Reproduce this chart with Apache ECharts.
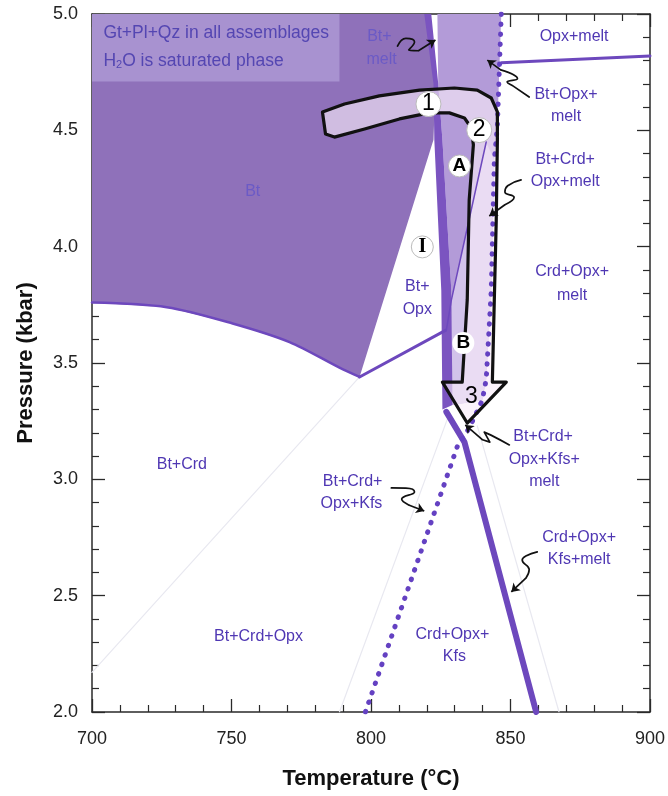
<!DOCTYPE html>
<html><head><meta charset="utf-8">
<script src="https://cdn.jsdelivr.net/npm/echarts@6/dist/echarts.min.js"></script>
<style>html,body{margin:0;padding:0;background:#fff}#c{width:668px;height:796px}</style>
</head><body><div id="c"></div>
<script>
// ---------- data (T in °C, P in kbar) ----------
const xRange = [700, 900];
const yRange = [2.0, 5.0];
const btField = [[700,5.0],[820.2,5.0],[823.1,4.70],[822.4,4.46],[795.9,3.44],[788.7,3.48],[770.8,3.59],[750.4,3.67],[726.8,3.74],[700,3.76]];
const btLowerCurve = [[700,3.76],[726.8,3.74],[750.4,3.67],[770.8,3.59],[788.7,3.48],[795.9,3.44]];
const noteBox = [[700,5.0],[788.7,5.0],[788.7,4.71],[700,4.71]];
const meltStrip = [[819.1,5.0],[822.4,4.70],[822.7,4.46],[825.2,3.81],[825.6,3.30],[829.2,3.32],[828.8,3.81],[825.6,4.46],[824.1,4.70],[821.6,5.0]];
const btOpxMelt = [[823.8,5.0],[846.7,5.0],[845.3,4.52],[844.2,4.37],[843.1,3.81],[841.3,3.43],[839.9,3.34],[829.2,3.32],[828.8,3.81],[825.6,4.46],[824.1,4.70]];
const btCrdOpxMelt = [[841.3,4.45],[844.2,4.37],[843.1,3.81],[841.3,3.43],[839.9,3.34],[829.2,3.32],[828.8,3.77]];
const thinLine = [[841.3,4.45],[828.8,3.77],[827.0,3.64]];
const opxMeltLine = [[846.7,4.79],[900,4.82]];
const btOpxLine = [[795.9,3.44],[826.7,3.64]];
const kfsMeltLine = [[827.0,3.29],[833.5,3.16],[859.2,2.0]];
const dottedLine = [[846.7,5.0],[845.3,4.52],[844.2,4.37],[843.1,3.81],[841.3,3.43],[839.9,3.34],[835.2,3.22],[830.9,3.14],[798.0,2.0]];
const faint1 = [[700,2.17],[795.9,3.44]];
const faint2 = [[788.7,2.0],[827.4,3.26]];
const faint3 = [[838.1,3.23],[867.4,2.0]];
const ptPath = [[782.6,4.579],[790.5,4.613],[803.0,4.648],[817.4,4.673],[829.9,4.682],[838.1,4.673],[843.1,4.639],[845.3,4.579],[845.3,4.458],[844.9,4.115],[844.2,3.771],[843.5,3.418],[848.5,3.418],[834.5,3.242],[825.6,3.418],[832.7,3.418],[834.5,3.771],[835.2,4.201],[836.7,4.437],[836.0,4.510],[833.5,4.553],[828.1,4.575],[820.9,4.575],[810.2,4.549],[797.7,4.506],[786.9,4.471],[783.7,4.484]];
const markers = [[820.6,4.613,'1'],[838.8,4.501,'2'],[831.7,4.347,'A'],[818.4,3.999,'I'],[833.1,3.586,'B']];
const arrowNumber = [[836.0,3.354,'3']];
const fieldLabels = [
  [803.0,4.901,'Bt+'],[803.8,4.802,'melt'],[757.6,4.235,'Bt'],
  [872.8,4.901,'Opx+melt'],[869.9,4.652,'Bt+Opx+'],[869.9,4.557,'melt'],
  [869.6,4.373,'Bt+Crd+'],[869.6,4.278,'Opx+melt'],
  [872.1,3.891,'Crd+Opx+'],[872.1,3.788,'melt'],
  [816.6,3.827,'Bt+'],[816.6,3.728,'Opx'],
  [732.2,3.062,'Bt+Crd'],
  [793.4,2.989,'Bt+Crd+'],[793.0,2.894,'Opx+Kfs'],
  [861.7,3.182,'Bt+Crd+'],[862.1,3.083,'Opx+Kfs+'],[862.1,2.989,'melt'],
  [874.6,2.748,'Crd+Opx+'],[874.6,2.653,'Kfs+melt'],
  [829.2,2.331,'Crd+Opx+'],[829.9,2.236,'Kfs'],
  [759.7,2.322,'Bt+Crd+Opx']
];
const noteLines = [[703.9,4.918,'Gt+Pl+Qz in all assemblages'],[703.9,4.798,'H{s|2}O is saturated phase']];
const callouts = [
  [[809.5,4.862],[812.5,4.895],[815.6,4.880],[813.5,4.845],[817.0,4.842],[823.1,4.888]],
  [[856.7,4.643],[851.0,4.690],[848.8,4.708],[852.5,4.722],[846.5,4.760],[841.7,4.802]],
  [[853.8,4.287],[849.0,4.262],[848.0,4.235],[851.3,4.212],[848.0,4.180],[842.4,4.132]],
  [[849.6,3.148],[843.0,3.190],[840.6,3.203],[842.6,3.160],[840.0,3.170],[833.8,3.234]],
  [[807.3,2.963],[812.5,2.962],[815.6,2.946],[811.0,2.915],[813.5,2.890],[819.1,2.864]],
  [[859.6,2.688],[855.5,2.670],[854.2,2.653],[856.7,2.612],[855.5,2.575],[850.3,2.516]]
];

// ---------- helpers ----------
const FONT = 'Liberation Sans, Arial, sans-serif';
const TXT = '#4f37b3';
function poly(pts, fill, z, stroke, width) {
  return {type:'custom', coordinateSystem:'cartesian2d', z, silent:true, clip:true,
    data:[pts[0]],
    renderItem:(params, api)=>({type:'polygon',
      shape:{points: pts.map(p=>api.coord(p))},
      style:{fill, stroke: stroke||null, lineWidth: width||0, lineJoin:'round'}})};
}
function line(pts, color, width, z, type, smooth) {
  return {type:'line', data:pts, symbol:'none', z, silent:true, smooth: smooth||false,
    lineStyle:{color, width, type: type||'solid', cap:'round', join:'round'}};
}
function labelSeries(items, color, size, z, align) {
  return {type:'scatter', z, silent:true, symbol:'circle', symbolSize:1,
    itemStyle:{color:'rgba(0,0,0,0)', opacity:1},
    data: items.map(l=>({value:[l[0],l[1]], label:{show:true, formatter:l[2]}})),
    label:{show:true, position: align==='left' ? 'right' : 'inside', distance:0, color, fontSize:size, fontFamily:FONT,
      rich:{s:{fontSize:11, color, fontFamily:FONT, padding:[7,0,0,0]}}}};
}

const axisCommon = {
  type:'value', axisLine:{show:true, lineStyle:{color:'#2a2a2a', width:1.5}},
  axisTick:{show:true, inside:true, length:13, lineStyle:{color:'#2a2a2a', width:1.3}},
  minorTick:{show:true, splitNumber:5, length:7, lineStyle:{color:'#2a2a2a', width:1.2}},
  splitLine:{show:false}
};

const calloutSeries = [];
callouts.forEach(c=>{
  calloutSeries.push(line(c.slice(0, c.length-1), '#111', 1.7, 8, 'solid', 0.5));
});
calloutSeries.push({type:'lines', coordinateSystem:'cartesian2d', z:8, silent:true,
  symbol:['none','arrow'], symbolSize:8,
  lineStyle:{color:'#111', width:1.7, opacity:1},
  data: callouts.map(c=>({coords:[c[c.length-2], c[c.length-1]]}))});

const option = {
  animation:false,
  backgroundColor:'#ffffff',
  grid:{left:92, right:17, top:14, bottom:84},
  xAxis:[
    Object.assign({}, axisCommon, {min:xRange[0], max:xRange[1], interval:50, position:'bottom',
      name:'Temperature (°C)', nameLocation:'middle', nameGap:56,
      nameTextStyle:{fontSize:22, fontWeight:'bold', color:'#111', fontFamily:FONT},
      axisLabel:{fontSize:18, color:'#222', margin:18, fontFamily:FONT}}),
    Object.assign({}, axisCommon, {min:xRange[0], max:xRange[1], interval:50, position:'top', axisLabel:{show:false}})
  ],
  yAxis:[
    Object.assign({}, axisCommon, {min:yRange[0], max:yRange[1], interval:0.5, position:'left',
      name:'Pressure (kbar)', nameLocation:'middle', nameGap:55, nameRotate:90,
      nameTextStyle:{fontSize:22, fontWeight:'bold', color:'#111', fontFamily:FONT},
      axisLabel:{fontSize:18, color:'#222', margin:14, fontFamily:FONT, formatter:v=>v.toFixed(1)}}),
    Object.assign({}, axisCommon, {min:yRange[0], max:yRange[1], interval:0.5, position:'right', axisLabel:{show:false}})
  ],
  series:[
    poly(btField, '#8f71ba', 1),
    poly(noteBox, '#a892d0', 2),
    poly(btOpxMelt, '#b39bd8', 1),
    poly(btCrdOpxMelt, '#d2c3ea', 2),
    line(faint1, '#e8e8f0', 1.2, 2),
    line(faint2, '#e8e8f0', 1.2, 2),
    line(faint3, '#e8e8f0', 1.2, 2),
    poly(meltStrip, '#7b54c0', 3),
    line(btLowerCurve, '#6d48bd', 2.5, 4, 'solid', 0.3),
    line(btOpxLine, '#6d48bd', 3, 4),
    line(opxMeltLine, '#6d48bd', 3, 4),
    poly(ptPath, 'rgba(248,236,248,0.62)', 5),
    line(thinLine, '#6d48bd', 1.5, 6),
    line(kfsMeltLine, '#6d48bd', 6, 4),
    line(dottedLine, '#6441c2', 5, 6, [0.5, 9.5]),
    poly(ptPath, 'rgba(0,0,0,0)', 7, '#111', 3.2),
    ...calloutSeries,
    {type:'scatter', z:9, silent:true, symbol:'circle',
      itemStyle:{color:'#ffffff', borderColor:'#bbbbbb', borderWidth:1, opacity:1},
      data: markers.map(m=>({value:[m[0],m[1]],
        symbolSize: (m[2]==='1'||m[2]==='2') ? 25 : 22,
        itemStyle: m[2]==='B' ? {color:'#ffffff', borderWidth:0, opacity:1} : undefined,
        label:{show:true, formatter:m[2], position:'inside', color:'#000',
          fontSize: m[2]==='I' ? 20 : (m[2]==='1'||m[2]==='2' ? 23 : 19),
          fontWeight: (m[2]==='1'||m[2]==='2') ? 'normal' : 'bold',
          fontFamily: m[2]==='I' ? 'Liberation Serif, serif' : FONT}}))},
    {type:'scatter', z:9, silent:true, symbol:'circle', symbolSize:1, itemStyle:{color:'rgba(0,0,0,0)', opacity:1},
      data: arrowNumber.map(m=>({value:[m[0],m[1]], label:{show:true, formatter:m[2], position:'inside', color:'#000', fontSize:23, fontFamily:FONT}}))},
    labelSeries(fieldLabels.slice(0,3), '#6b5ac6', 16, 10),
    labelSeries(fieldLabels.slice(3), TXT, 16, 10),
    labelSeries(noteLines, '#5446b2', 17.5, 10, 'left')
  ]
};
const chart = echarts.init(document.getElementById('c'), null, {renderer:'canvas'});
chart.setOption(option);
</script>
</body></html>
